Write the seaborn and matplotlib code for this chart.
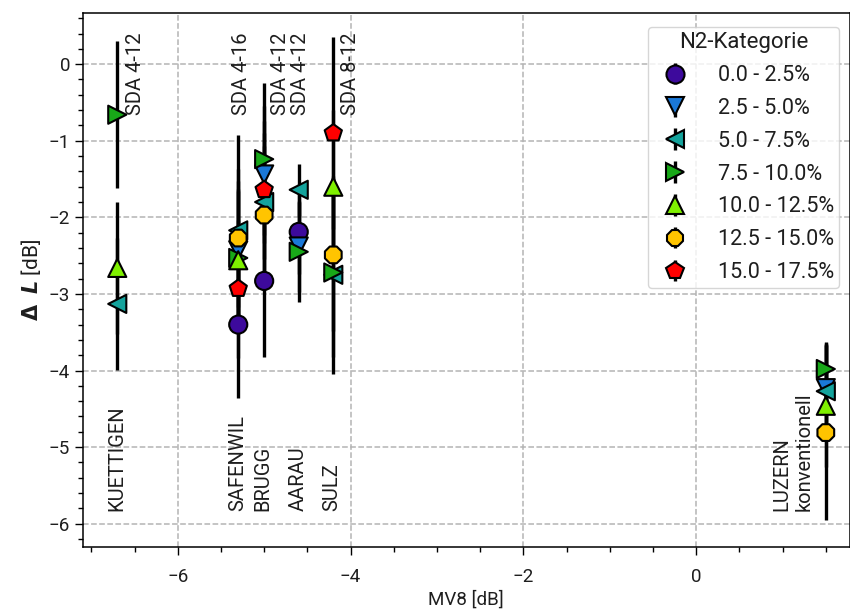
import numpy as np
import pandas as pd
import matplotlib
matplotlib.use("Agg")
import matplotlib.pyplot as plt
from matplotlib.ticker import AutoMinorLocator
import seaborn as sns

# - N2 categories -
categories = ["0.0 - 2.5%", "2.5 - 5.0%", "5.0 - 7.5%", "7.5 - 10.0%",
              "10.0 - 12.5%", "12.5 - 15.0%", "15.0 - 17.5%"]
cat_colors = ["#3d0a9c", "#1a78d8", "#14a39c", "#18a818", "#7ff000", "#ffc400", "#ff0000"]
cat_markers = ["o", "v", "<", ">", "^", "8", "p"]

# - sites -
sites = ["KUETTIGEN", "SAFENWIL", "BRUGG", "AARAU", "SULZ", "LUZERN\nkonventionell"]
site_mv8 = [-6.7, -5.3, -5.0, -4.6, -4.2, 1.5]
site_sda = ["SDA 4-12", "SDA 4-16", "SDA 4-12", "SDA 4-12", "SDA 8-12", ""]

# - measured points: site index, category index, delta L, error -
pt_site = [0, 0, 0,
           1, 1, 1, 1, 1, 1, 1,
           2, 2, 2, 2, 2, 2,
           3, 3, 3, 3,
           4, 4, 4, 4, 4,
           5, 5, 5, 5, 5]
pt_cat = [3, 4, 2,
          0, 6, 4, 3, 1, 5, 2,
          3, 1, 6, 2, 5, 0,
          2, 0, 1, 3,
          6, 4, 5, 3, 2,
          3, 1, 2, 4, 5]
pt_dl = [-0.66, -2.66, -3.13,
         -3.40, -2.93, -2.56, -2.53, -2.43, -2.27, -2.17,
         -1.24, -1.44, -1.64, -1.80, -1.97, -2.83,
         -1.64, -2.19, -2.38, -2.45,
         -0.90, -1.60, -2.49, -2.72, -2.75,
         -3.98, -4.23, -4.27, -4.46, -4.81]
pt_err = [0.96, 0.86, 0.86,
          0.96, 0.90, 0.90, 0.90, 0.90, 0.90, 1.25,
          0.99, 0.90, 0.90, 0.90, 0.90, 0.99,
          0.34, 0.55, 0.60, 0.65,
          1.25, 1.00, 1.00, 1.10, 1.29,
          0.34, 0.60, 0.60, 0.80, 1.14]

# - label placement (offsets from site position) -
sda_dx = [0.21, 0.04, 0.19, 0.02, 0.20, 0.0]
name_dx = [0.0, -0.01, -0.02, -0.01, -0.02, -0.38]

df = pd.DataFrame({
    "MV8": [site_mv8[i] for i in pt_site],
    "dL": pt_dl,
    "err": pt_err,
    "cat_idx": pt_cat,
})
df["N2"] = [categories[i] for i in df["cat_idx"]]
df = df.sort_values("cat_idx", kind="stable").reset_index(drop=True)

sns.set_style("ticks")
plt.rcParams["font.family"] = ["Roboto", "DejaVu Sans"]
plt.rcParams["mathtext.fontset"] = "dejavusans"
txt_col = "#1e1e1e"

fig = plt.figure(figsize=(8.5, 6.12), dpi=100)
ax = fig.add_axes([0.0973, 0.1067, 0.9027, 0.8723])

# error bars below the markers
ax.errorbar(df["MV8"], df["dL"], yerr=df["err"], fmt="none",
            ecolor="black", elinewidth=2.4, capsize=0, zorder=2)

sns.scatterplot(data=df, x="MV8", y="dL", hue="N2", style="N2",
                hue_order=categories, style_order=categories,
                palette=dict(zip(categories, cat_colors)),
                markers=dict(zip(categories, cat_markers)),
                s=170, edgecolor="black", linewidth=1.5,
                legend=False, zorder=3, ax=ax)

# legend entries styled like errorbar handles
handles = []
for c, col, m in zip(categories, cat_colors, cat_markers):
    h = ax.errorbar([np.nan], [np.nan], yerr=[np.nan], fmt=m, color=col,
                    mec="black", mew=1.5, ms=13, ecolor="black",
                    elinewidth=2.4, capsize=0, label=c)
    handles.append(h)
leg = ax.legend(handles=handles, title="N2-Kategorie", loc="upper right",
                fontsize=15.5, title_fontsize=16, handletextpad=1.0,
                borderpad=0.25, labelspacing=0.55, bbox_to_anchor=(1.0, 0.994))
leg.get_frame().set_edgecolor("#cccccc")
for t in leg.get_texts():
    t.set_color(txt_col)
leg.get_title().set_color(txt_col)

# site annotations
for i, name in enumerate(sites):
    ax.text(site_mv8[i] + name_dx[i], -5.84, name, rotation=90,
            ha="center", va="bottom", multialignment="left",
            fontsize=14.5, color=txt_col)
    if site_sda[i]:
        ax.text(site_mv8[i] + sda_dx[i], 0.41, site_sda[i], rotation=90,
                ha="center", va="top", fontsize=14.5, color=txt_col)

ax.set_xlim(-7.10, 1.78)
ax.set_ylim(-6.30, 0.67)
ax.set_xticks([-6, -4, -2, 0])
ax.set_yticks([0, -1, -2, -3, -4, -5, -6])
ax.xaxis.set_minor_locator(AutoMinorLocator())
ax.yaxis.set_minor_locator(AutoMinorLocator())
ax.tick_params(which="major", direction="out", length=5.5, width=1.0,
               labelsize=13.5, color="black", labelcolor=txt_col)
ax.tick_params(which="minor", direction="out", length=3.5, width=1.0, color="black")
ax.tick_params(axis="x", which="major", pad=10)
ax.grid(True, which="major", linestyle="--", color="#b4b4b4", linewidth=1.1)
ax.set_axisbelow(True)
for sp in ax.spines.values():
    sp.set_color("black")
    sp.set_linewidth(1.1)

ax.set_xlabel("MV8 [dB]", fontsize=13.5, color=txt_col, labelpad=3)
ax.set_ylabel(r"$\mathbf{\Delta}\;\;\mathbfit{L}$ [dB]", fontsize=15, color=txt_col)

fig.savefig("out.png", dpi=100)
